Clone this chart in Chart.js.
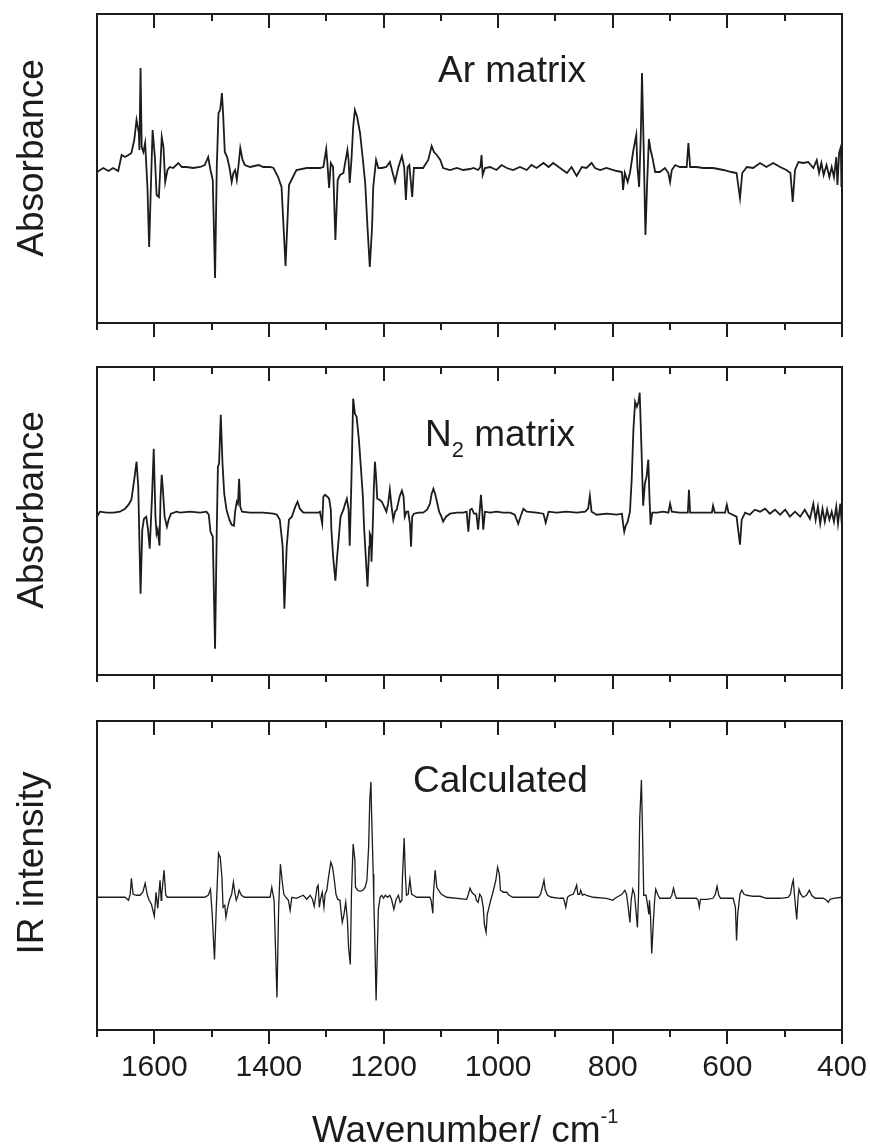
<!DOCTYPE html>
<html>
<head>
<meta charset="utf-8">
<title>IR spectra: Ar matrix, N2 matrix, calculated</title>
<script src="https://cdn.jsdelivr.net/npm/chart.js@4.4.1/dist/chart.umd.min.js"></script>
<style>
  body { margin: 0; background: #fff; }
  #wrap { position: relative; width: 870px; height: 1145px; }
  canvas { position: absolute; left: 0; }
</style>
</head>
<body>
<div id="wrap">
  <canvas id="arPanel" width="870" height="345" style="top:0"></canvas>
  <canvas id="n2Panel" width="870" height="355" style="top:345px"></canvas>
  <canvas id="calcPanel" width="870" height="445" style="top:700px"></canvas>
</div>
<script>
// ---- data (wavenumber in cm-1, intensity in arbitrary units, baseline = 0) ----

// Ar matrix difference spectrum
const arWn = [
  1700, 1689, 1680, 1672, 1663, 1657, 1651, 1645, 1640, 1635,
  1631, 1627, 1626, 1624, 1622, 1619, 1616, 1612, 1609, 1606,
  1603, 1599, 1596, 1592, 1590, 1587, 1584, 1581, 1577, 1573,
  1567, 1558, 1552, 1544, 1532, 1520, 1512, 1506, 1502, 1498,
  1494, 1491, 1488, 1485, 1482, 1480, 1477, 1473, 1469, 1465,
  1462, 1459, 1456, 1453, 1450, 1446, 1442, 1433, 1418, 1410,
  1398, 1392, 1384, 1378, 1371, 1365, 1359, 1352, 1334, 1311,
  1305, 1300, 1298, 1295, 1292, 1288, 1284, 1280, 1276, 1270,
  1267, 1263, 1261, 1259, 1256, 1253, 1250, 1246, 1241, 1236,
  1232, 1228, 1224, 1220, 1218, 1213, 1209, 1203, 1195, 1189,
  1184, 1180, 1174, 1168, 1164, 1161, 1158, 1155, 1150, 1147,
  1139, 1131, 1122, 1116, 1112, 1107, 1101, 1096, 1084, 1072,
  1061, 1049, 1043, 1035, 1031, 1029, 1027, 1023, 1014, 1003,
  994, 985, 974, 962, 950, 942, 933, 921, 912, 904,
  892, 880, 872, 863, 854, 846, 837, 831, 822, 811,
  793, 784, 782, 779, 774, 770, 764, 759, 757, 754,
  751, 749, 746, 743, 740, 737, 734, 731, 726, 718,
  709, 703, 700, 697, 691, 683, 671, 668, 665, 654,
  642, 625, 607, 593, 584, 578, 574, 566, 555, 543,
  532, 520, 508, 497, 490, 486, 482, 476, 468, 459,
  450, 444, 440, 436, 432, 427, 422, 418, 414, 410,
  408, 405, 402, 401, 400
];
const arAbs = [
  -0.02, 0.02, -0.01, 0.02, -0.01, 0.15, 0.13, 0.15, 0.17, 0.30,
  0.50, 0.37, 0.20, 1.02, 0.23, 0.18, 0.27, -0.17, -0.77, -0.17,
  0.40, 0.13, -0.25, -0.27, -0.03, 0.33, 0.23, -0.12, 0.00, 0.03,
  0.02, 0.07, 0.03, 0.03, 0.02, 0.03, 0.05, 0.13, 0.00, -0.10,
  -1.08, 0.03, 0.57, 0.60, 0.77, 0.57, 0.18, 0.13, 0.03, -0.12,
  -0.03, 0.00, -0.10, 0.05, 0.22, 0.10, 0.05, 0.03, 0.05, 0.03,
  0.03, 0.02, -0.07, -0.17, -0.96, -0.15, -0.08, 0.00, 0.02, 0.02,
  0.03, 0.21, 0.07, -0.18, 0.07, 0.03, -0.70, -0.10, -0.05, -0.03,
  0.07, 0.20, 0.10, -0.13, 0.10, 0.43, 0.60, 0.53, 0.37, 0.10,
  -0.13, -0.57, -0.97, -0.57, -0.17, 0.10, 0.02, 0.02, 0.03, 0.08,
  -0.03, -0.12, 0.03, 0.14, 0.03, -0.30, 0.03, 0.05, -0.27, 0.02,
  0.02, 0.02, 0.10, 0.24, 0.18, 0.15, 0.10, 0.02, 0.00, 0.02,
  0.00, 0.01, 0.02, 0.00, 0.03, 0.15, -0.05, 0.02, 0.03, 0.00,
  0.05, 0.02, 0.00, 0.03, 0.00, 0.05, 0.02, 0.07, 0.03, 0.07,
  0.02, -0.03, 0.03, -0.06, 0.03, 0.02, 0.07, 0.02, 0.00, 0.02,
  -0.01, -0.02, -0.20, -0.03, -0.12, -0.03, 0.20, 0.35, 0.03, -0.17,
  0.37, 0.97, 0.20, -0.65, -0.13, 0.31, 0.20, 0.13, -0.02, -0.02,
  0.02, -0.03, -0.12, 0.00, 0.05, 0.03, 0.03, 0.27, 0.03, 0.03,
  0.02, 0.02, 0.00, -0.02, -0.03, -0.28, -0.03, 0.03, 0.02, 0.07,
  0.03, 0.07, 0.03, 0.00, -0.03, -0.32, 0.00, 0.08, 0.07, 0.08,
  0.02, 0.10, -0.03, 0.07, -0.05, 0.05, -0.07, 0.03, -0.07, 0.13,
  -0.15, 0.17, 0.23, -0.17, 0.10
];

// N2 matrix difference spectrum
const n2Wn = [
  1700, 1695, 1683, 1671, 1660, 1651, 1645, 1640, 1635, 1631,
  1628, 1624, 1621, 1618, 1614, 1611, 1608, 1604, 1601, 1598,
  1596, 1594, 1591, 1589, 1587, 1585, 1582, 1578, 1575, 1571,
  1561, 1555, 1538, 1520, 1509, 1505, 1502, 1498, 1494, 1491,
  1489, 1487, 1484, 1481, 1478, 1474, 1469, 1465, 1461, 1459,
  1456, 1454, 1452, 1450, 1447, 1433, 1410, 1392, 1386, 1381,
  1376, 1373, 1369, 1365, 1360, 1354, 1350, 1346, 1340, 1328,
  1314, 1311, 1307, 1305, 1302, 1298, 1295, 1292, 1291, 1288,
  1284, 1281, 1279, 1275, 1270, 1267, 1264, 1261, 1259, 1256,
  1253, 1250, 1247, 1243, 1240, 1236, 1234, 1231, 1228, 1225,
  1224, 1222, 1221, 1219, 1217, 1215, 1213, 1211, 1207, 1203,
  1199, 1195, 1192, 1189, 1186, 1183, 1180, 1177, 1172, 1168,
  1165, 1163, 1160, 1157, 1154, 1152, 1150, 1147, 1139, 1131,
  1124, 1119, 1116, 1113, 1110, 1106, 1103, 1099, 1096, 1091,
  1084, 1072, 1061, 1055, 1052, 1049, 1046, 1042, 1038, 1035,
  1032, 1030, 1028, 1026, 1023, 1014, 1003, 991, 979, 971,
  965, 961, 956, 950, 933, 921, 917, 912, 898, 881,
  863, 848, 843, 840, 837, 828, 811, 793, 784, 782,
  780, 778, 774, 770, 767, 764, 761, 758, 755, 753,
  750, 747, 744, 741, 738, 736, 734, 731, 723, 712,
  703, 700, 697, 683, 669, 667, 665, 648, 627, 625,
  622, 604, 601, 598, 584, 578, 575, 569, 561, 552,
  543, 534, 526, 517, 508, 499, 491, 482, 473, 465,
  456, 450, 446, 442, 438, 434, 430, 426, 422, 418,
  414, 410, 407, 403, 400
];
const n2Abs = [
  -0.04, 0.01, 0.00, 0.00, 0.01, 0.04, 0.08, 0.13, 0.33, 0.51,
  0.26, -0.81, -0.17, -0.06, -0.04, -0.17, -0.36, 0.16, 0.64, -0.04,
  -0.21, -0.17, -0.33, 0.16, 0.38, 0.23, -0.04, -0.14, -0.07, -0.01,
  0.01, 0.00, 0.01, 0.00, 0.01, -0.02, -0.19, -0.24, -1.36, -0.17,
  0.46, 0.49, 0.98, 0.49, 0.19, 0.03, -0.07, -0.12, -0.13, 0.01,
  0.11, 0.09, 0.34, 0.06, 0.01, 0.00, 0.00, -0.01, -0.02, -0.07,
  -0.34, -0.96, -0.34, -0.07, -0.04, 0.06, 0.11, 0.04, 0.00, 0.00,
  0.00, 0.01, -0.11, 0.16, 0.18, 0.16, 0.14, 0.03, -0.17, -0.44,
  -0.68, -0.44, -0.31, -0.04, 0.03, 0.09, 0.14, 0.03, -0.33, 0.33,
  1.14, 0.99, 0.96, 0.73, 0.49, 0.16, -0.14, -0.44, -0.74, -0.34,
  -0.21, -0.24, -0.49, -0.17, 0.23, 0.51, 0.36, 0.14, 0.13, 0.11,
  0.06, 0.01, 0.09, 0.23, 0.06, -0.07, 0.01, 0.03, 0.16, 0.22,
  0.16, -0.04, 0.01, 0.01, -0.11, -0.34, -0.04, -0.01, 0.00, 0.00,
  0.03, 0.09, 0.19, 0.24, 0.19, 0.09, 0.01, -0.04, -0.09, -0.04,
  -0.01, 0.00, 0.00, 0.01, -0.19, 0.03, 0.04, -0.01, -0.01, -0.17,
  0.03, 0.18, 0.03, -0.17, 0.01, 0.00, 0.01, 0.00, 0.00, -0.02,
  -0.11, -0.04, 0.04, 0.01, 0.00, -0.01, -0.10, 0.01, 0.00, 0.01,
  0.00, 0.01, 0.04, 0.17, 0.01, -0.02, -0.01, -0.02, -0.01, -0.11,
  -0.19, -0.14, -0.09, 0.01, 0.33, 0.83, 1.11, 1.06, 1.11, 1.20,
  0.66, 0.07, 0.29, 0.36, 0.53, 0.16, -0.12, 0.00, 0.00, 0.01,
  0.00, 0.09, 0.01, 0.00, 0.00, 0.23, 0.00, 0.00, 0.00, 0.07,
  0.00, 0.00, 0.08, 0.00, -0.04, -0.32, -0.07, 0.00, -0.02, 0.03,
  0.01, 0.04, -0.01, 0.03, -0.02, 0.03, -0.04, 0.01, -0.04, 0.03,
  -0.06, 0.09, -0.07, 0.06, -0.11, 0.04, -0.09, 0.03, -0.07, 0.01,
  -0.09, 0.06, -0.11, 0.09, -0.14
];

// calculated difference spectrum
const calcWn = [
  1700, 1651, 1645, 1642, 1640, 1637, 1631, 1625, 1620, 1616,
  1612, 1609, 1605, 1600, 1597, 1594, 1592, 1590, 1588, 1587,
  1583, 1580, 1577, 1512, 1506, 1502, 1499, 1495, 1492, 1488,
  1485, 1482, 1480, 1477, 1475, 1472, 1469, 1465, 1462, 1459,
  1457, 1454, 1452, 1448, 1443, 1398, 1395, 1391, 1386, 1383,
  1380, 1377, 1374, 1369, 1366, 1363, 1360, 1352, 1340, 1334,
  1328, 1324, 1321, 1318, 1316, 1314, 1312, 1310, 1307, 1304,
  1302, 1299, 1296, 1292, 1289, 1286, 1283, 1280, 1276, 1274,
  1272, 1269, 1266, 1263, 1261, 1258, 1256, 1254, 1253, 1250,
  1249, 1245, 1241, 1236, 1232, 1229, 1226, 1224, 1222, 1221,
  1218, 1217, 1215, 1213, 1211, 1209, 1206, 1203, 1200, 1197,
  1193, 1189, 1186, 1182, 1178, 1174, 1171, 1168, 1167, 1164,
  1162, 1160, 1157, 1154, 1151, 1148, 1142, 1119, 1117, 1114,
  1113, 1110, 1107, 1104, 1099, 1090, 1055, 1052, 1049, 1046,
  1043, 1040, 1038, 1035, 1032, 1029, 1026, 1024, 1021, 1019,
  1016, 1013, 1010, 1007, 1004, 1001, 998, 996, 991, 985,
  981, 974, 930, 926, 922, 920, 918, 914, 907, 892,
  886, 884, 882, 879, 875, 869, 866, 863, 861, 858,
  856, 853, 850, 846, 834, 811, 805, 800, 796, 790,
  784, 779, 776, 773, 770, 768, 765, 762, 759, 757,
  755, 753, 750, 748, 746, 742, 740, 737, 736, 734,
  732, 729, 727, 725, 721, 718, 700, 697, 694, 691,
  689, 654, 651, 649, 647, 636, 625, 621, 618, 615,
  612, 590, 586, 584, 582, 578, 575, 571, 566, 555,
  543, 532, 520, 508, 494, 490, 487, 485, 483, 481,
  479, 477, 475, 472, 468, 462, 457, 453, 447, 433,
  427, 424, 421, 415, 400
];
const calcInt = [
  0.00, 0.00, -0.03, 0.03, 0.19, 0.03, 0.02, 0.02, 0.05, 0.14,
  0.02, -0.03, -0.07, -0.19, 0.05, -0.11, 0.03, 0.17, -0.03, 0.03,
  0.27, 0.02, 0.00, 0.00, 0.02, 0.08, -0.17, -0.62, -0.13, 0.44,
  0.40, 0.20, -0.10, -0.08, -0.20, -0.10, -0.03, 0.03, 0.15, 0.03,
  -0.03, 0.02, 0.07, 0.02, 0.00, 0.00, 0.10, -0.03, -1.00, -0.10,
  0.33, 0.17, 0.03, -0.01, -0.03, -0.13, 0.00, -0.01, 0.02, -0.02,
  0.02, -0.02, -0.09, 0.02, 0.10, 0.12, -0.10, -0.02, 0.05, -0.10,
  0.03, 0.07, 0.20, 0.35, 0.30, 0.18, 0.03, -0.02, -0.03, -0.15,
  -0.25, -0.17, -0.05, -0.23, -0.50, -0.67, 0.03, 0.37, 0.53, 0.37,
  0.10, 0.07, 0.06, 0.07, 0.10, 0.17, 0.50, 0.97, 1.15, 0.87,
  0.23, -0.03, -0.47, -1.03, -0.57, -0.12, 0.00, 0.02, -0.01, 0.02,
  0.00, 0.02, -0.02, -0.12, -0.02, 0.02, -0.05, -0.03, 0.20, 0.59,
  0.23, 0.02, 0.03, 0.18, 0.03, 0.02, 0.00, 0.00, -0.03, -0.16,
  0.03, 0.27, 0.10, 0.07, 0.03, 0.00, -0.02, 0.03, 0.09, 0.05,
  0.03, 0.02, -0.03, -0.05, 0.03, 0.00, -0.10, -0.27, -0.35, -0.17,
  -0.10, -0.03, 0.03, 0.10, 0.17, 0.30, 0.23, 0.07, 0.05, 0.05,
  0.02, 0.00, 0.00, 0.03, 0.12, 0.17, 0.08, 0.02, 0.00, -0.01,
  -0.01, -0.05, -0.10, 0.00, 0.02, 0.03, 0.07, 0.12, 0.03, 0.03,
  0.07, 0.02, 0.03, 0.02, 0.00, -0.01, -0.02, -0.03, -0.01, 0.01,
  0.03, 0.07, 0.03, -0.10, -0.25, -0.03, 0.08, 0.03, -0.17, -0.30,
  0.03, 0.77, 1.17, 0.63, 0.02, 0.02, -0.05, -0.17, -0.03, -0.20,
  -0.56, -0.23, -0.03, 0.08, 0.02, -0.01, -0.01, 0.02, 0.09, 0.02,
  -0.01, -0.01, -0.03, -0.10, -0.02, -0.02, -0.01, 0.03, 0.11, 0.02,
  -0.01, -0.01, -0.10, -0.43, -0.17, 0.03, 0.07, 0.03, 0.02, 0.01,
  0.01, -0.01, -0.01, -0.01, 0.00, 0.03, 0.13, 0.17, 0.03, -0.10,
  -0.22, -0.03, 0.08, 0.03, 0.00, 0.02, 0.07, 0.02, -0.01, -0.01,
  -0.03, -0.05, -0.02, -0.01, 0.00
];

// x axis ticks: labelled every 200, minor ticks in between
const xTicks = [1700, 1600, 1500, 1400, 1300, 1200, 1100, 1000, 900, 800, 700, 600, 500, 400];
const xLabelStep = 200;

// vertical ranges of the three panels
const arRange = [-1.53, 1.56];
const n2Range = [-1.623, 1.457];
const calcRange = [-1.323, 1.757];

const INK = '#1c1c1c';
const FONT = '"Liberation Sans", Arial, Helvetica, sans-serif';

function toPoints(xs, ys) {
  return xs.map((x, i) => ({ x: x, y: ys[i] }));
}

// draws a run of text pieces (for sub/superscripts) left to right
function drawRuns(ctx, runs, x, y) {
  let cx = x;
  runs.forEach(r => {
    ctx.font = r.size + 'px ' + FONT;
    ctx.fillText(r.text, cx, y + (r.dy || 0));
    cx += ctx.measureText(r.text).width;
  });
}

// box around the plot area, ticks inward on top and outward on bottom
const frameTicks = {
  id: 'frameTicks',
  afterDraw(chart) {
    const ctx = chart.ctx;
    const a = chart.chartArea;
    const x = chart.scales.x;
    ctx.save();
    ctx.strokeStyle = INK;
    ctx.lineWidth = 2;
    ctx.strokeRect(a.left, a.top, a.right - a.left, a.bottom - a.top);
    ctx.beginPath();
    xTicks.forEach(v => {
      const px = Math.round(x.getPixelForValue(v));
      const len = v % xLabelStep === 0 ? 14 : 7;
      ctx.moveTo(px, a.top);
      ctx.lineTo(px, a.top + len);
      ctx.moveTo(px, a.bottom);
      ctx.lineTo(px, a.bottom + len);
    });
    ctx.stroke();
    ctx.restore();
  }
};

// panel caption, rotated y title and (bottom panel) x title
function panelText(text) {
  return {
    id: 'panelText',
    afterDraw(chart) {
      const ctx = chart.ctx;
      ctx.save();
      ctx.fillStyle = INK;
      ctx.textBaseline = 'alphabetic';
      ctx.textAlign = 'left';
      drawRuns(ctx, text.caption.runs, text.caption.x, text.caption.y);
      if (text.xTitle) drawRuns(ctx, text.xTitle.runs, text.xTitle.x, text.xTitle.y);
      ctx.translate(43, text.yTitle.y);
      ctx.rotate(-Math.PI / 2);
      ctx.textAlign = 'center';
      ctx.font = '37px ' + FONT;
      ctx.fillText(text.yTitle.label, 0, 0);
      ctx.restore();
    }
  };
}

function makePanel(id, xs, ys, range, lineWidth, padding, showLabels, text) {
  return new Chart(document.getElementById(id), {
    type: 'line',
    data: {
      datasets: [{
        data: toPoints(xs, ys),
        borderColor: INK,
        borderWidth: lineWidth,
        pointRadius: 0,
        tension: 0,
        fill: false
      }]
    },
    options: {
      responsive: false,
      animation: false,
      events: [],
      layout: { padding: padding },
      plugins: {
        legend: { display: false },
        tooltip: { enabled: false }
      },
      scales: {
        x: {
          type: 'linear',
          reverse: true,
          min: 400,
          max: 1700,
          display: showLabels,
          afterBuildTicks: s => { s.ticks = xTicks.map(v => ({ value: v })); },
          afterFit: s => { s.paddingLeft = 0; s.paddingRight = 0; },
          grid: { display: false, drawTicks: false },
          border: { display: false },
          ticks: {
            autoSkip: false,
            maxRotation: 0,
            padding: 20,
            color: INK,
            font: { family: FONT, size: 30 },
            callback: v => (v % xLabelStep === 0 ? String(v) : '')
          }
        },
        y: { display: false, min: range[0], max: range[1] }
      }
    },
    plugins: [frameTicks, panelText(text)]
  });
}

makePanel('arPanel', arWn, arAbs, arRange, 1.8,
  { top: 14, bottom: 22, left: 97, right: 28 }, false, {
    caption: { x: 438, y: 82, runs: [{ text: 'Ar matrix', size: 37 }] },
    yTitle: { label: 'Absorbance', y: 158 }
  });

makePanel('n2Panel', n2Wn, n2Abs, n2Range, 1.8,
  { top: 22, bottom: 25, left: 97, right: 28 }, false, {
    caption: { x: 425, y: 101, runs: [
      { text: 'N', size: 37 },
      { text: '2', size: 22, dy: 11 },
      { text: ' matrix', size: 37 }
    ] },
    yTitle: { label: 'Absorbance', y: 165 }
  });

makePanel('calcPanel', calcWn, calcInt, calcRange, 1.3,
  { top: 21, bottom: 39, left: 97, right: 28 }, true, {
    caption: { x: 413, y: 92, runs: [{ text: 'Calculated', size: 37 }] },
    yTitle: { label: 'IR intensity', y: 163 },
    xTitle: { x: 312, y: 442, runs: [
      { text: 'Wavenumber/ cm', size: 37 },
      { text: '-1', size: 20, dy: -19 }
    ] }
  });
</script>
</body>
</html>
